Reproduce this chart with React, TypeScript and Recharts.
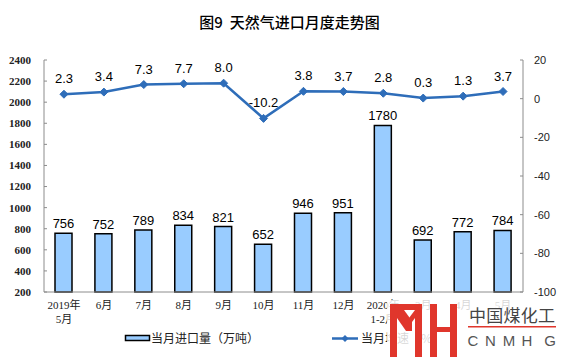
import React from "react";
import { ComposedChart, Bar, Line, XAxis, YAxis, LabelList } from "recharts";

const categories = ["2019年\n5月", "6月", "7月", "8月", "9月", "10月", "11月", "12月", "2020年\n1-2月", "3月", "4月", "5月"];
const imports = [756, 752, 789, 834, 821, 652, 946, 951, 1780, 692, 772, 784];
const growth = [2.3, 3.4, 7.3, 7.7, 8.0, -10.2, 3.8, 3.7, 2.8, 0.3, 1.3, 3.7];
const leftTicks = [200, 400, 600, 800, 1000, 1200, 1400, 1600, 1800, 2000, 2200, 2400];
const rightTicks = [-100, -80, -60, -40, -20, 0, 20];
const title = "图9  天然气进口月度走势图";
const legendBar = "当月进口量（万吨）";
const legendLine = "当月增速（%）";
const watermarkCn = "中国煤化工";
const watermarkEn = ["C", "N", "M", "H", "G"];

const data = categories.map((c, i) => ({ month: c, imports: imports[i], growth: growth[i] }));

const LINE_COLOR = "#2E6DB9";
const BAR_FILL = "#99CCFF";
const AXIS_COLOR = "#8C8C8C";
const RED = "#E0362C";
const CJK_SERIF = "'Liberation Serif', 'Noto Sans CJK SC', serif";
const CJK = "'Noto Sans CJK SC', sans-serif";
const SANS = "'Liberation Sans', Arial, sans-serif";

const XTick = (props: any) => {
  const { x, y, payload } = props;
  const lines = String(payload.value).split("\n");
  return (
    <text x={x} y={y} textAnchor="middle" fontSize={11} fontFamily={CJK_SERIF} fill="#222">
      {lines.map((l: string, i: number) => (
        <tspan key={i} x={x} dy={i === 0 ? 17 : 14}>
          {l}
        </tspan>
      ))}
    </text>
  );
};

const Diamond = (props: any) => {
  const { cx, cy } = props;
  if (cx == null || cy == null) return null;
  const s = 4;
  return (
    <polygon
      points={`${cx},${cy - s} ${cx + s},${cy} ${cx},${cy + s} ${cx - s},${cy}`}
      fill={LINE_COLOR}
      stroke={LINE_COLOR}
    />
  );
};

const enX = [473, 490.5, 509, 527, 550];

export default function App() {
  return (
    <div style={{ position: "absolute", left: 0, top: 0, width: 561, height: 357, background: "#fff" }}>
      <ComposedChart
        width={561}
        height={357}
        data={data}
        margin={{ top: 60, right: 0, bottom: 0, left: 0 }}
      >
        <XAxis
          dataKey="month"
          interval={0}
          height={65}
          tickLine={false}
          tickSize={0}
          tickMargin={0}
          axisLine={{ stroke: AXIS_COLOR }}
          tick={<XTick />}
        />
        <YAxis
          yAxisId="l"
          orientation="left"
          width={44}
          domain={[200, 2400]}
          ticks={leftTicks}
          interval={0}
          tickSize={-3}
          tickMargin={16}
          axisLine={{ stroke: AXIS_COLOR }}
          tickLine={{ stroke: AXIS_COLOR }}
          tick={{ fontSize: 11, fontFamily: CJK_SERIF, fontWeight: 700, fill: "#222" }}
        />
        <YAxis
          yAxisId="r"
          orientation="right"
          width={38}
          domain={[-100, 20]}
          ticks={rightTicks}
          interval={0}
          tickSize={-3}
          tickMargin={14}
          axisLine={{ stroke: AXIS_COLOR }}
          tickLine={{ stroke: AXIS_COLOR }}
          tick={{ fontSize: 11, fontFamily: SANS, fill: "#222", textAnchor: "start" }}
        />
        <Bar
          yAxisId="l"
          dataKey="imports"
          barSize={17}
          fill={BAR_FILL}
          stroke="#000"
          strokeWidth={1.5}
          isAnimationActive={false}
        >
          <LabelList dataKey="imports" position="top" offset={5} fontSize={13} fontFamily={SANS} fill="#000" />
        </Bar>
        <Line
          yAxisId="r"
          dataKey="growth"
          stroke={LINE_COLOR}
          strokeWidth={2.5}
          dot={<Diamond />}
          activeDot={false}
          isAnimationActive={false}
        >
          <LabelList
            dataKey="growth"
            position="top"
            offset={11}
            fontSize={13}
            fontFamily={SANS}
            fill="#000"
            formatter={(v: any) => Number(v).toFixed(1)}
          />
        </Line>
      </ComposedChart>
      <svg
        width={561}
        height={357}
        style={{ position: "absolute", left: 0, top: 0, pointerEvents: "none" }}
      >
        <text
          x={289.5}
          y={27.5}
          textAnchor="middle"
          fontSize={15}
          fontWeight={500}
          fontFamily={CJK}
          fill="#000"
          style={{ whiteSpace: "pre" }}
        >
          {title}
        </text>
        <rect x={125.5} y={335.5} width={24} height={5} fill={BAR_FILL} stroke="#000" strokeWidth={1.5} />
        <text x={151} y={342.5} fontSize={12} fontFamily={CJK} fill="#222">
          {legendBar}
        </text>
        <line x1={332} y1={338.5} x2={358} y2={338.5} stroke={LINE_COLOR} strokeWidth={2.5} />
        <polygon points="345,335 348.5,338.5 345,342 341.5,338.5" fill={LINE_COLOR} />
        <text x={361} y={342.5} fontSize={12} fontFamily={CJK} fill="#222">
          {legendLine}
        </text>
        {/* watermark */}
        <rect x={387} y={300} width={174} height={57} fill="#fff" opacity={0.82} />
        <g fill={RED}>
          <rect x={390} y={304} width={7} height={53} />
          <rect x={390} y={304} width={32} height={6} />
          <polygon points="397,310 404,310 412,321 412,331 406,331 397,318" />
          <rect x={415} y={304} width={7} height={53} />
          <polygon points="415,310 415,318 412,322 409,318" />
          <rect x={430} y={304} width={7} height={53} />
          <rect x={450} y={304} width={7} height={53} />
          <rect x={430} y={327} width={27} height={5} />
        </g>
        <text x={469} y={322} fontSize={17} fontFamily={CJK} fill="#444" textLength={86}>
          {watermarkCn}
        </text>
        <rect x={468} y={326} width={88} height={1.5} fill={RED} />
        {watermarkEn.map((ch, i) => (
          <text key={ch} x={enX[i]} y={346} textAnchor="middle" fontSize={15} fontFamily={SANS} fill="#555">
            {ch}
          </text>
        ))}
      </svg>
    </div>
  );
}
